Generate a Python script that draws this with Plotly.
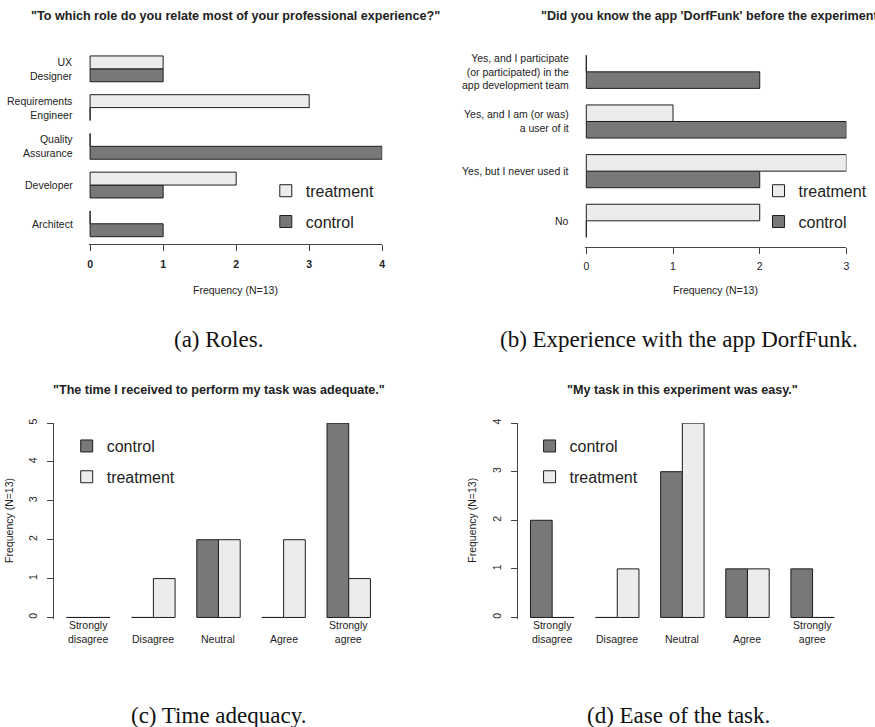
import plotly.graph_objects as go

W, H = 875, 727

# ---------------- data ----------------
roles = ["Architect", "Developer", "Quality Assurance", "Requirements Engineer", "UX Designer"]
role_labels = ["Architect", "Developer", "Quality<br>Assurance", "Requirements<br>Engineer", "UX<br>Designer"]
roles_control = [1, 1, 4, 0, 1]
roles_treatment = [0, 2, 0, 3, 1]

app_answers = ["No", "Yes, but I never used it", "Yes, and I am (or was) a user of it",
               "Yes, and I participate (or participated) in the app development team"]
app_labels = ["No", "Yes, but I never used it", "Yes, and I am (or was)<br>a user of it",
              "Yes, and I participate<br>(or participated) in the<br>app development team"]
app_control = [0, 2, 3, 2]
app_treatment = [2, 3, 1, 0]

likert = ["Strongly disagree", "Disagree", "Neutral", "Agree", "Strongly agree"]
likert_labels = ["Strongly<br>disagree", "Disagree", "Neutral", "Agree", "Strongly<br>agree"]
time_control = [0, 0, 2, 0, 5]
time_treatment = [0, 1, 2, 2, 1]
ease_control = [2, 0, 3, 1, 1]
ease_treatment = [0, 1, 4, 1, 0]

roles_ticks = [0, 1, 2, 3, 4]
app_ticks = [0, 1, 2, 3]
time_ticks = [0, 1, 2, 3, 4, 5]
ease_ticks = [0, 1, 2, 3, 4]

titles = [
    '"To which role do you relate most of your professional experience?"',
    '"Did you know the app \'DorfFunk\' before the experiment?"',
    '"The time I received to perform my task was adequate."',
    '"My task in this experiment was easy."',
]
captions = ["(a) Roles.", "(b) Experience with the app DorfFunk.",
            "(c) Time adequacy.", "(d) Ease of the task."]
freq_label = "Frequency (N=13)"

# ---------------- style ----------------
CONTROL = "#787878"
TREATMENT = "#ebeceb"
EDGE = "#1e1e1e"
AXIS = "#444444"
TXT = "#222222"
SANS = "Liberation Sans, Arial, Helvetica, sans-serif"
SERIF = "Liberation Serif, Times New Roman, serif"
LBL = 10.5


def fx(p):
    return p / W


def fy(p):
    return 1 - p / H


def value_axis(p_zero, p_top, v_top, pad=1.5):
    """range/pixel extent of a value axis starting at 0, padded slightly below 0."""
    scale = abs(p_top - p_zero) / v_top
    sgn = 1 if p_top > p_zero else -1
    return [-pad / scale, v_top], (p_zero - sgn * pad, p_top)


def cat_axis(c0, step, n, ext=0.52):
    rng = [-ext, n - 1 + ext]
    return rng, (c0 + step * rng[0], c0 + step * rng[1])


fig = go.Figure()

# ---------- panel geometry (pixels) ----------
a_xr, a_xp = value_axis(89.5, 383.0, 4)
a_yr, a_yp = cat_axis(220.3, -39.0, len(roles))
b_xr, b_xp = value_axis(588.0, 849.3, 3)
b_yr, b_yp = cat_axis(217.3, -50.0, len(app_answers))
c_yr, c_yp = value_axis(616.7, 421.0, 5)
c_xr, c_xp = cat_axis(87.7, 65.4, len(likert))
d_yr, d_yp = value_axis(616.7, 421.0, 4)
d_xr, d_xp = cat_axis(553.7, 65.4, len(likert))

bar_line = dict(color=EDGE, width=1)

# ---------- (a) roles ----------
fig.add_trace(go.Bar(y=roles, x=roles_control, orientation="h", name="control",
                     marker=dict(color=CONTROL, line=bar_line), xaxis="x", yaxis="y",
                     legend="legend", legendgroup="a1", legendrank=2))
fig.add_trace(go.Bar(y=roles, x=roles_treatment, orientation="h", name="treatment",
                     marker=dict(color=TREATMENT, line=bar_line), xaxis="x", yaxis="y",
                     legend="legend", legendgroup="a2", legendrank=1))
# ---------- (b) DorfFunk ----------
fig.add_trace(go.Bar(y=app_answers, x=app_control, orientation="h", name="control",
                     marker=dict(color=CONTROL, line=bar_line), xaxis="x2", yaxis="y2",
                     legend="legend2", legendgroup="b1", legendrank=2))
fig.add_trace(go.Bar(y=app_answers, x=app_treatment, orientation="h", name="treatment",
                     marker=dict(color=TREATMENT, line=bar_line), xaxis="x2", yaxis="y2",
                     legend="legend2", legendgroup="b2", legendrank=1))
# ---------- (c) time ----------
fig.add_trace(go.Bar(x=likert, y=time_control, name="control",
                     marker=dict(color=CONTROL, line=bar_line), xaxis="x3", yaxis="y3",
                     legend="legend3", legendgroup="c1", legendrank=1))
fig.add_trace(go.Bar(x=likert, y=time_treatment, name="treatment",
                     marker=dict(color=TREATMENT, line=bar_line), xaxis="x3", yaxis="y3",
                     legend="legend3", legendgroup="c2", legendrank=2))
# ---------- (d) ease ----------
fig.add_trace(go.Bar(x=likert, y=ease_control, name="control",
                     marker=dict(color=CONTROL, line=bar_line), xaxis="x4", yaxis="y4",
                     legend="legend4", legendgroup="d1", legendrank=1))
fig.add_trace(go.Bar(x=likert, y=ease_treatment, name="treatment",
                     marker=dict(color=TREATMENT, line=bar_line), xaxis="x4", yaxis="y4",
                     legend="legend4", legendgroup="d2", legendrank=2))

value_ax = dict(showgrid=False, zeroline=False, showline=True, linecolor=AXIS, linewidth=1,
                ticks="outside", ticklen=6, tickcolor=AXIS, tickwidth=1, fixedrange=True)
cat_ax = dict(type="category", showgrid=False, zeroline=False, showline=False, ticks="",
              showticklabels=False, fixedrange=True)


def hdomain(p):
    return [fx(min(p)), fx(max(p))]


def vdomain(p):
    return [fy(max(p)), fy(min(p))]


fig.update_layout(
    xaxis=dict(**value_ax, domain=hdomain(a_xp), range=a_xr, tickvals=roles_ticks,
               anchor="y", ticklabelstandoff=4,
               tickfont=dict(size=LBL, color=TXT, weight="bold")),
    yaxis=dict(**cat_ax, domain=vdomain(a_yp), range=a_yr, anchor="x",
               categoryorder="array", categoryarray=roles),
    xaxis2=dict(**value_ax, domain=hdomain(b_xp), range=b_xr, tickvals=app_ticks,
                anchor="y2", ticklabelstandoff=4, tickfont=dict(size=LBL, color=TXT)),
    yaxis2=dict(**cat_ax, domain=vdomain(b_yp), range=b_yr, anchor="x2",
                categoryorder="array", categoryarray=app_answers),
    xaxis3=dict(**cat_ax, domain=hdomain(c_xp), range=c_xr, anchor="y3",
                categoryorder="array", categoryarray=likert),
    yaxis3=dict(**value_ax, domain=vdomain(c_yp), range=c_yr, tickvals=time_ticks,
                anchor="x3", tickangle=-90, ticklabelstandoff=6,
                tickfont=dict(size=LBL, color=TXT)),
    xaxis4=dict(**cat_ax, domain=hdomain(d_xp), range=d_xr, anchor="y4",
                categoryorder="array", categoryarray=likert),
    yaxis4=dict(**value_ax, domain=vdomain(d_yp), range=d_yr, tickvals=ease_ticks,
                anchor="x4", tickangle=-90, ticklabelstandoff=6,
                tickfont=dict(size=LBL, color=TXT)),
)

leg = dict(xanchor="left", yanchor="top", tracegroupgap=7, bgcolor="rgba(0,0,0,0)",
           borderwidth=0, traceorder="grouped",
           font=dict(size=16, color=TXT, family=SANS))
fig.update_layout(
    legend=dict(**leg, x=fx(266), y=fy(170)),
    legend2=dict(**leg, x=fx(761), y=fy(170)),
    legend3=dict(**leg, x=fx(66), y=fy(427)),
    legend4=dict(**leg, x=fx(531), y=fy(427)),
)

ann = []
# panel titles, centred over each plot region
title_pos = [((a_xp[0] + a_xp[1]) / 2, 11), ((b_xp[0] + b_xp[1]) / 2, 11),
             ((c_xp[0] + c_xp[1]) / 2, 388), ((d_xp[0] + d_xp[1]) / 2, 388)]
for t, (px, py) in zip(titles, title_pos):
    ann.append(dict(text=t, x=fx(px), y=fy(py), xref="paper", yref="paper",
                    xanchor="center", yanchor="middle", showarrow=False,
                    font=dict(size=12.6, color=TXT, family=SANS, weight="bold")))

# category names
for cat, lab in zip(roles, role_labels):
    ann.append(dict(text=lab, x=fx(74), y=cat, xref="paper", yref="y", xanchor="right",
                    yanchor="middle", align="right", showarrow=False,
                    font=dict(size=LBL, color=TXT)))
for cat, lab in zip(app_answers, app_labels):
    ann.append(dict(text=lab, x=fx(573), y=cat, xref="paper", yref="y2", xanchor="right",
                    yanchor="middle", align="right", showarrow=False,
                    font=dict(size=LBL, color=TXT)))
for xr in ("x3", "x4"):
    for cat, lab in zip(likert, likert_labels):
        ann.append(dict(text=lab, x=cat, y=fy(646), xref=xr, yref="paper", xanchor="center",
                        yanchor="bottom", align="center", showarrow=False,
                        font=dict(size=LBL, color=TXT)))

# axis titles
for px, py in (((a_xp[0] + a_xp[1]) / 2, 287), ((b_xp[0] + b_xp[1]) / 2, 287)):
    ann.append(dict(text=freq_label, x=fx(px), y=fy(py), xref="paper", yref="paper",
                    xanchor="center", yanchor="middle", showarrow=False,
                    font=dict(size=LBL, color=TXT)))
for px in (8.5, 473.5):
    ann.append(dict(text=freq_label, x=fx(px), y=fy(519), xref="paper", yref="paper",
                    xanchor="center", yanchor="middle", textangle=-90, showarrow=False,
                    font=dict(size=LBL, color=TXT)))

# sub-figure captions
for cap, (px, py) in zip(captions, ((219, 337), (681, 337), (219, 715), (681, 715))):
    ann.append(dict(text=cap, x=fx(px), y=fy(py), xref="paper", yref="paper",
                    xanchor="center", yanchor="middle", showarrow=False,
                    font=dict(size=23, color="#111111", family=SERIF)))

fig.update_layout(
    width=W, height=H, margin=dict(l=0, r=0, t=0, b=0, pad=0),
    paper_bgcolor="white", plot_bgcolor="white",
    barmode="group", bargap=1 / 3, bargroupgap=0,
    font=dict(family=SANS, color=TXT, size=LBL),
    annotations=ann, showlegend=True,
)

fig.write_html("out.html", config={"displayModeBar": False, "staticPlot": True})
